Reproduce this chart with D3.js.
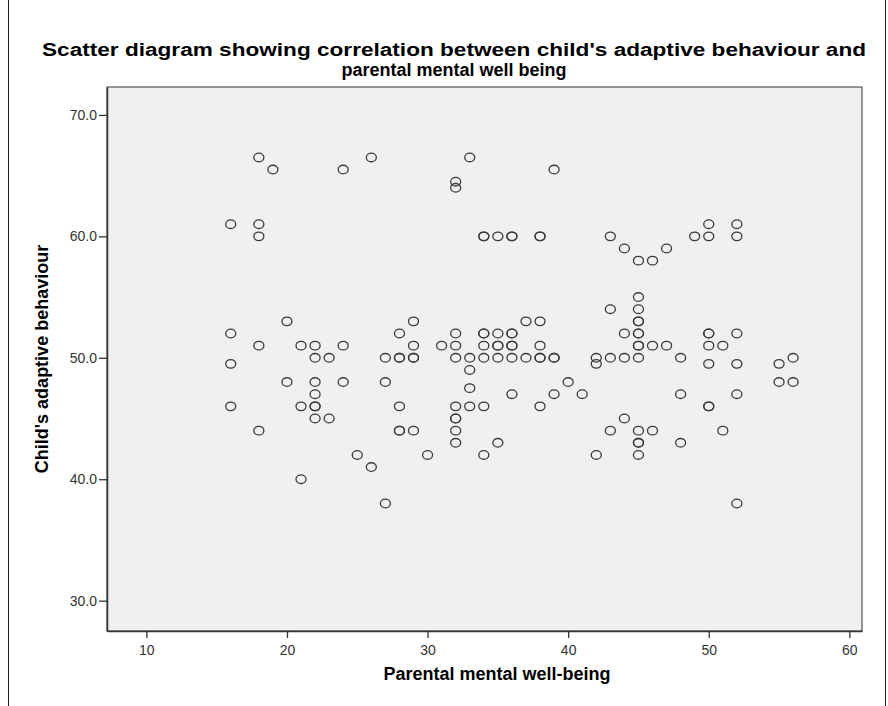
<!DOCTYPE html>
<html>
<head>
<meta charset="utf-8">
<script src="https://cdn.jsdelivr.net/npm/d3@7"></script>
<style>
  html, body { margin: 0; padding: 0; background: #ffffff; }
  svg { display: block; }
</style>
</head>
<body>
<svg id="chart" width="888" height="706"></svg>
<script>
// ---- Data ----
const titleLines = ["Scatter diagram showing correlation between child's adaptive behaviour and", "parental mental well being"];
const xLabel = "Parental mental well-being";
const yLabel = "Child's adaptive behaviour";
const xTicks = [10, 20, 30, 40, 50, 60];
const yTicks = [30, 40, 50, 60, 70];

// Parental mental well-being (x) and child's adaptive behaviour (y), one entry per plotted point
const parental = [
  18,19,24,26,16,18,18,
  33,32,32,39,
  34,34,35,36,36,38,38,43,
  44,45,46,47,49,50,50,52,52,
  20,16,18,21,22,24,22,23,16,20,22,24,22,16,21,22,22,22,23,18,
  43,29,37,38,28,32,34,34,35,36,36,
  29,31,32,34,35,35,36,36,38,
  27,28,28,29,29,32,33,34,35,36,37,38,38,39,39,
  42,42,43,44,
  33,27,40,33,36,39,41,
  28,32,33,34,38,32,32,
  28,28,29,32,43,
  45,45,45,45,44,45,45,50,50,52,
  45,45,46,47,50,51,
  45,48,50,52,55,56,55,56,
  48,52,50,50,44,45,46,51,
  25,26,21,27,32,35,30,34,42,45,45,48,45,52
];
const child = [
  66.5,65.5,65.5,66.5,61,61,60,
  66.5,64.5,64,65.5,
  60,60,60,60,60,60,60,60,
  59,58,58,59,60,61,60,61,60,
  53,52,51,51,51,51,50,50,49.5,48,48,48,47,46,46,46,46,45,45,44,
  54,53,53,53,52,52,52,52,52,52,52,
  51,51,51,51,51,51,51,51,51,
  50,50,50,50,50,50,50,50,50,50,50,50,50,50,50,
  50,49.5,50,50,
  49,48,48,47.5,47,47,47,
  46,46,46,46,46,45,45,
  44,44,44,44,44,
  55,54,53,53,52,52,52,52,52,52,
  51,51,51,51,51,51,
  50,50,49.5,49.5,49.5,50,48,48,
  47,47,46,46,45,44,44,44,
  42,41,40,38,43,43,42,42,42,43,43,43,42,38
];

// ---- Layout ----
const svg = d3.select("#chart");
const plot = { left: 107, right: 862, top: 87, bottom: 631 };
const font = "'Liberation Sans', Arial, sans-serif";

const x = d3.scaleLinear().domain([7.2, 60.9]).range([plot.left, plot.right]);
const y = d3.scaleLinear().domain([27.5, 72.3]).range([plot.bottom, plot.top]);

// outer frame lines of the figure
svg.append("line").attr("x1", 8.5).attr("x2", 8.5).attr("y1", 0).attr("y2", 706)
  .attr("stroke", "#222").attr("stroke-width", 1);
svg.append("line").attr("x1", 885.5).attr("x2", 885.5).attr("y1", 0).attr("y2", 706)
  .attr("stroke", "#222").attr("stroke-width", 1);

// plot background
svg.append("rect")
  .attr("x", plot.left).attr("y", plot.top)
  .attr("width", plot.right - plot.left).attr("height", plot.bottom - plot.top)
  .attr("fill", "#f0f0f0").attr("stroke", "#333").attr("stroke-width", 1);

// axes
const xAxis = d3.axisBottom(x).tickValues(xTicks).tickSize(7).tickSizeOuter(0).tickFormat(d3.format("d"));
const yAxis = d3.axisLeft(y).tickValues(yTicks).tickSize(8).tickSizeOuter(0).tickFormat(d3.format(".1f"));

const gx = svg.append("g").attr("transform", `translate(0,${plot.bottom})`).call(xAxis);
const gy = svg.append("g").attr("transform", `translate(${plot.left},0)`).call(yAxis);
[gx, gy].forEach(g => {
  g.select(".domain").attr("stroke", "#333").attr("stroke-width", 1.5);
  g.selectAll(".tick line").attr("stroke", "#333").attr("stroke-width", 1.3);
  g.selectAll(".tick text")
    .attr("font-family", font)
    .attr("font-size", 14).attr("fill", "#333");
});
gx.selectAll(".tick text").attr("dy", "1em");
gy.selectAll(".tick text").attr("x", -10);

// points
svg.append("g").selectAll("ellipse")
  .data(d3.range(parental.length))
  .join("ellipse")
  .attr("cx", i => x(parental[i]))
  .attr("cy", i => y(child[i]))
  .attr("rx", 5).attr("ry", 4.3)
  .attr("fill", "none").attr("stroke", "#3a3a3a").attr("stroke-width", 1.3);

// title
const title = svg.append("text")
  .attr("text-anchor", "middle")
  .attr("font-family", font)
  .attr("font-weight", "bold").attr("font-size", 18).attr("fill", "#000");
title.append("tspan").attr("x", 454).attr("y", 56)
  .attr("textLength", 824).attr("lengthAdjust", "spacingAndGlyphs").text(titleLines[0]);
title.append("tspan").attr("x", 454).attr("y", 76).text(titleLines[1]);

// axis titles
svg.append("text")
  .attr("x", 497).attr("y", 680)
  .attr("text-anchor", "middle")
  .attr("font-family", font)
  .attr("font-weight", "bold").attr("font-size", 18).attr("fill", "#000")
  .text(xLabel);

svg.append("text")
  .attr("transform", `translate(48,${(plot.top + plot.bottom) / 2}) rotate(-90)`)
  .attr("text-anchor", "middle")
  .attr("font-family", font)
  .attr("font-weight", "bold").attr("font-size", 18).attr("fill", "#000")
  .text(yLabel);
</script>
</body>
</html>
